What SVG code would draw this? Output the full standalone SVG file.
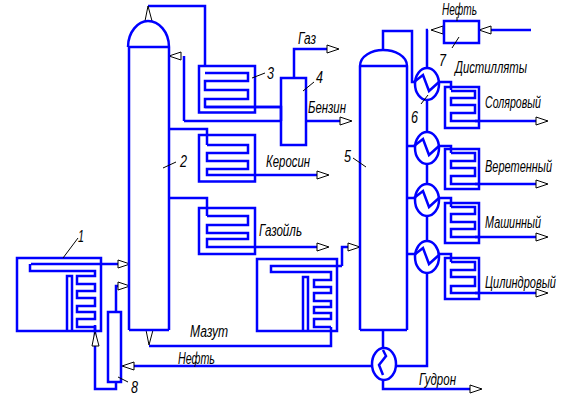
<svg xmlns="http://www.w3.org/2000/svg" width="582" height="401" viewBox="0 0 582 401">
<defs>
<style>
.b{fill:none;stroke:#0000ff;stroke-width:2.500}
.l{fill:none;stroke:#000;stroke-width:1}
.a{fill:#fff;stroke:#000;stroke-width:1}
.t{font-family:"Liberation Sans",Arial,sans-serif;font-style:italic;font-size:16px;fill:#000}
</style>
<polygon id="ar" class="a" points="0,-4 12,0 0,4"/>
<polygon id="al" class="a" points="0,-4 -12,0 0,4"/>
</defs>
<rect width="582" height="401" fill="#fff"/>
<g id="connectors">
<path class="b" d="M148 6H205V66M184 56V121M169 129H207V145M169 198H207V216M31 264H118M116 312V286H118M95 325V389H116V382M149 346H331V327M134 366H372M396 366H427V273M427 241V216M427 184V164M427 132V100M427 68V30H428M491 30H531M342 266V247H348M383 330V348M383 380V389H470M383 50V31H412V82H415M439 82H451V90M439 146H451V153M439 198H451V207M439 254H451V262M407 146H415M407 198H415M407 254H415M281 121V107H205M184 121H281M294 78V49H327M306 121H340M255 175H317M255 247H317M475 121H536M475 184H536M475 237H536M475 293H536"/>
<use href="#ar" x="118" y="264"/>
<use href="#ar" x="118" y="286"/>
<use href="#ar" x="348" y="247"/>
<use href="#ar" x="327" y="49"/>
<use href="#ar" x="340" y="121"/>
<use href="#ar" x="317" y="175"/>
<use href="#ar" x="317" y="247"/>
<use href="#ar" x="536" y="121"/>
<use href="#ar" x="536" y="184"/>
<use href="#ar" x="536" y="237"/>
<use href="#ar" x="536" y="293"/>
<use href="#ar" x="470" y="389"/>
<use href="#al" x="134" y="366"/>
<use href="#al" x="181" y="56"/>
<use href="#al" x="443" y="30"/>
<use href="#al" x="491" y="30"/>
<polygon class="a" points="148,6 145,21 152,21"/>
<polygon class="a" points="146,330 153,330 149,345"/>
<polygon class="a" points="95,331 92,346 99,346"/>
</g>
<g id="n1"><rect class="b" x="17" y="258" width="84" height="73"/>
<path class="b" d="M30 264V271H95V276H77V284H95V291H77V298H95V306H77V312H95V319H77V327H95V331M67 331V276H72V331"/></g>
<g id="n2"><path class="b" d="M129 330V47M169 330V47M128 47H169M128 47C128 32 138 21 148 21C159 21 169 32 169 47M129 330H169"/></g>
<g id="n3"><rect class="b" x="199" y="66" width="56" height="46.500"/>
<path class="b" d="M205 73H248V81H205V90H248V99H205V107H281"/></g>
<g id="n3b"><rect class="b" x="199" y="135" width="56" height="46.500"/>
<path class="b" d="M207 145H248V153H207V161H248V169H207V175H255"/></g>
<g id="n3c"><rect class="b" x="199" y="208" width="56" height="46"/>
<path class="b" d="M207 216H248V225H207V233H248V239H207V247H255"/></g>
<g id="n4"><rect class="b" x="281" y="78" width="25" height="67"/></g>
<g id="n5"><path class="b" d="M360 330V66M407 330V66M360 66H407M360 66C360 56 372 50 383 50C395 50 407 56 407 66M360 330H407"/></g>
<g id="n1b"><rect class="b" x="257" y="259" width="80" height="72"/>
<path class="b" d="M342 266H271V272H331V280H314V287H331V293H314V301H331V307H314V313H331V319H314V327H331M303 331V277H308V331"/></g>
<g id="n6a"><ellipse class="b" cx="427" cy="84" rx="12" ry="16"/><path class="b" d="M414 82L423 75L429 91L439 82"/></g>
<g id="n6b"><ellipse class="b" cx="427" cy="148" rx="12" ry="16"/><path class="b" d="M414 146L423 139L429 155L439 146"/></g>
<g id="n6c"><ellipse class="b" cx="427" cy="200" rx="12" ry="16"/><path class="b" d="M414 198L423 191L429 207L439 198"/></g>
<g id="n6d"><ellipse class="b" cx="427" cy="257" rx="12" ry="16"/><path class="b" d="M414 255L423 248L429 264L439 255"/></g>
<g id="n6e"><ellipse class="b" cx="384" cy="364" rx="12" ry="16"/><path class="b" d="M383 350L386 356L379 365L383 375"/></g>
<g id="n7"><rect class="b" x="444" y="21" width="35" height="22"/></g>
<g id="n8"><rect class="b" x="108" y="312" width="13" height="70"/></g>
<g id="s1"><rect class="b" x="445" y="87" width="34" height="41"/><path class="b" d="M451 91H475V98H451V105H475V113H451V121H479"/></g>
<g id="s2"><rect class="b" x="445" y="149" width="34" height="40"/><path class="b" d="M451 153H475V161H451V168H475V176H451V184H479"/></g>
<g id="s3"><rect class="b" x="445" y="203" width="34" height="40"/><path class="b" d="M451 207H475V214H451V222H475V229H451V237H479"/></g>
<g id="s4"><rect class="b" x="445" y="258" width="34" height="41"/><path class="b" d="M451 262H475V270H451V277H475V286H451V293H479"/></g>
<g id="leaders">
<path class="l" d="M252 78L265 73M163 168L176 162M63 258L78 238M118 377L128 382M303 91L314 82M353 158L366 167M421 104L428 95M452 48L459 37M457 17V21"/>
</g>
<g id="labels">
<text class="t" x="298" y="44" textLength="18" lengthAdjust="spacingAndGlyphs">Газ</text>
<text class="t" x="308" y="113" textLength="38" lengthAdjust="spacingAndGlyphs">Бензин</text>
<text class="t" x="266" y="167" textLength="44" lengthAdjust="spacingAndGlyphs">Керосин</text>
<text class="t" x="259" y="236" textLength="43" lengthAdjust="spacingAndGlyphs">Газойль</text>
<text class="t" x="190" y="337" textLength="38" lengthAdjust="spacingAndGlyphs">Мазут</text>
<text class="t" x="178" y="364" textLength="37" lengthAdjust="spacingAndGlyphs">Нефть</text>
<text class="t" x="442" y="15" textLength="35" lengthAdjust="spacingAndGlyphs">Нефть</text>
<text class="t" x="455" y="73" textLength="72" lengthAdjust="spacingAndGlyphs">Дистилляты</text>
<text class="t" x="485" y="108" textLength="56" lengthAdjust="spacingAndGlyphs">Соляровый</text>
<text class="t" x="485" y="172" textLength="67" lengthAdjust="spacingAndGlyphs">Веретенный</text>
<text class="t" x="485" y="228" textLength="56" lengthAdjust="spacingAndGlyphs">Машинный</text>
<text class="t" x="485" y="288" textLength="71" lengthAdjust="spacingAndGlyphs">Цилиндровый</text>
<text class="t" x="419" y="385" textLength="37" lengthAdjust="spacingAndGlyphs">Гудрон</text>
<text class="t" x="267" y="79" textLength="7" lengthAdjust="spacingAndGlyphs">3</text>
<text class="t" x="180" y="167" textLength="7" lengthAdjust="spacingAndGlyphs">2</text>
<text class="t" x="78" y="242" textLength="6" lengthAdjust="spacingAndGlyphs">1</text>
<text class="t" x="131" y="393" textLength="7" lengthAdjust="spacingAndGlyphs">8</text>
<text class="t" x="316" y="83" textLength="7" lengthAdjust="spacingAndGlyphs">4</text>
<text class="t" x="344" y="162" textLength="7" lengthAdjust="spacingAndGlyphs">5</text>
<text class="t" x="411" y="123" textLength="7" lengthAdjust="spacingAndGlyphs">6</text>
<text class="t" x="439" y="66" textLength="7" lengthAdjust="spacingAndGlyphs">7</text>
</g>
</svg>
